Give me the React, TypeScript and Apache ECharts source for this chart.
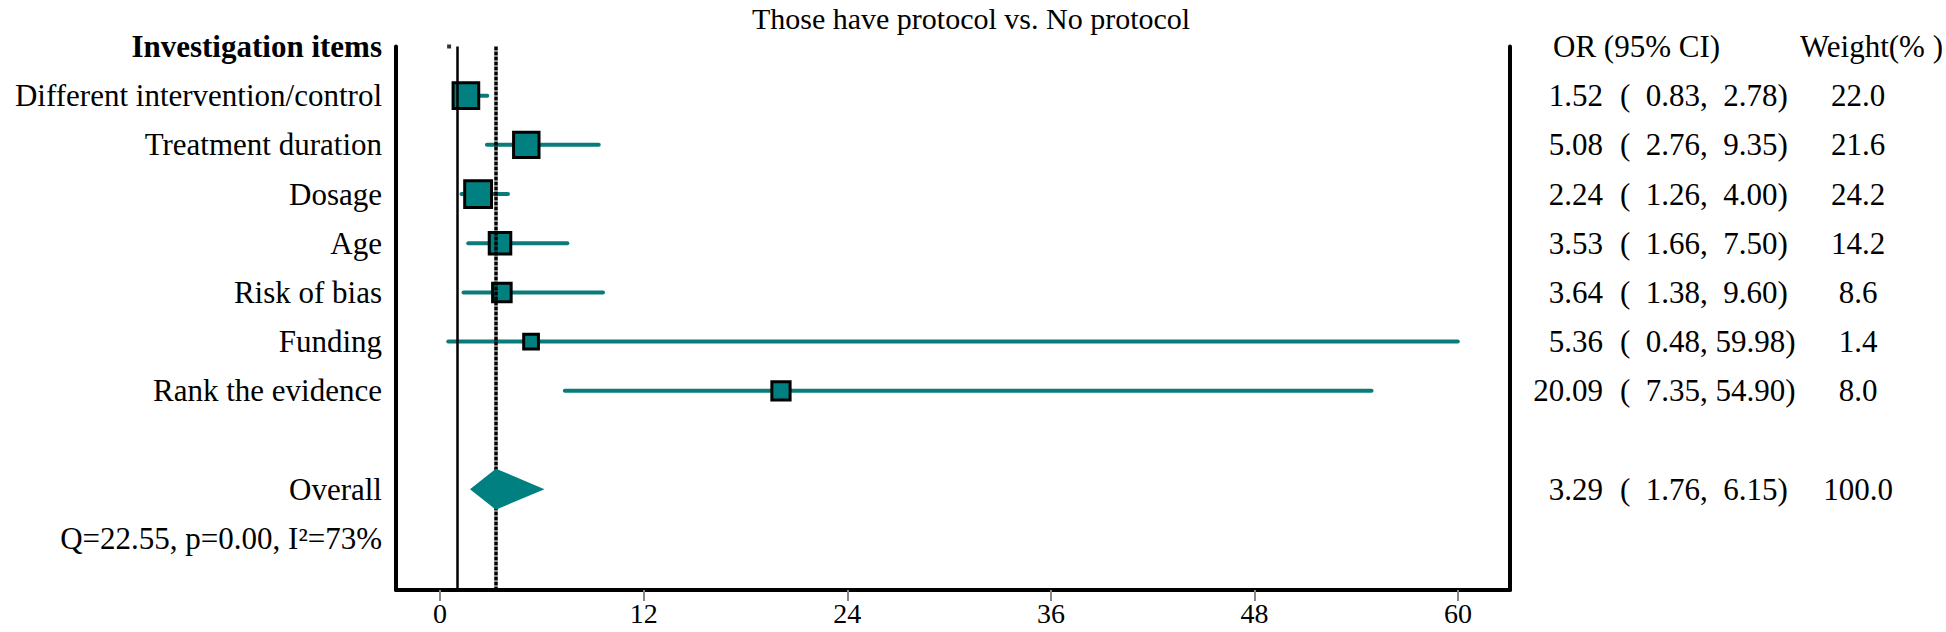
import React, { useEffect, useRef } from "react";
import * as echarts from "echarts";

const titleText = "Those have protocol vs. No protocol";
const headerLeft = "Investigation items";
const headerOR = "OR (95% CI)";
const headerWeight = "Weight(% )";
const categories = [
  "Different intervention/control",
  "Treatment duration",
  "Dosage",
  "Age",
  "Risk of bias",
  "Funding",
  "Rank the evidence",
];
const orValues = [1.52, 5.08, 2.24, 3.53, 3.64, 5.36, 20.09];
const ciLower = [0.83, 2.76, 1.26, 1.66, 1.38, 0.48, 7.35];
const ciUpper = [2.78, 9.35, 4.0, 7.5, 9.6, 59.98, 54.9];
const weights = [22.0, 21.6, 24.2, 14.2, 8.6, 1.4, 8.0];
const overallLabel = "Overall";
const overallOR = [3.29];
const overallLower = [1.76];
const overallUpper = [6.15];
const overallWeight = [100.0];
const heterogeneityText = "Q=22.55, p=0.00, I\u00b2=73%";
const xTickValues = [0, 12, 24, 36, 48, 60];
const nullLine = [1];
const topDot = [[0.53, 0]];

const FONT = "Liberation Serif";
const TEAL = "#008080";
const TEAL_LINE = "#0a7b7b";
const NB = "\u00a0";

const itemRows = categories.map((_, i) => i + 1);
const overallRow = categories.length + 2;
const statsRow = overallRow + 1;
const yMax = 11.05;

const pad5 = (v: number) => {
  const s = v.toFixed(2);
  return NB.repeat(Math.max(0, 5 - s.length)) + s;
};

const rowMap = (): Record<number, { label: string; or?: number; lo?: number; hi?: number; w?: number }> => {
  const m: Record<number, any> = {};
  categories.forEach((c, i) => {
    m[i + 1] = { label: c, or: orValues[i], lo: ciLower[i], hi: ciUpper[i], w: weights[i] };
  });
  m[overallRow] = { label: overallLabel, or: overallOR[0], lo: overallLower[0], hi: overallUpper[0], w: overallWeight[0] };
  m[statsRow] = { label: heterogeneityText };
  return m;
};

export default function App() {
  const ref = useRef<HTMLDivElement>(null);
  useEffect(() => {
    if (!ref.current) return;
    const chart = echarts.init(ref.current, undefined, { renderer: "svg" });
    const rows = rowMap();
    const dataRows = [...itemRows, overallRow];
    const baseY = {
      type: "value" as const,
      inverse: true,
      min: 0,
      max: yMax,
      splitLine: { show: false },
      axisTick: { show: false },
    };
    const txtL = { fontFamily: FONT, fontSize: 31, color: "#000" };
    const txtR = { fontFamily: FONT, fontSize: 31, color: "#000" };
    const option: any = {
      animation: false,
      backgroundColor: "#fff",
      textStyle: { fontFamily: FONT },
      title: {
        text: titleText,
        left: 971,
        top: 3,
        padding: 0,
        textAlign: "center",
        textStyle: { fontFamily: FONT, fontSize: 30, fontWeight: "normal", color: "#000" },
      },
      grid: { left: 396, right: 434, top: 46.5, bottom: 42, containLabel: false },
      xAxis: {
        type: "value",
        min: -2.6,
        max: 63.06,
        splitLine: { show: false },
        axisLine: { show: true, onZero: false, lineStyle: { color: "#000", width: 4 } },
        axisTick: { show: true, customValues: xTickValues, length: 11, lineStyle: { color: "#888", width: 2 } },
        axisLabel: { customValues: xTickValues, margin: 9, fontFamily: FONT, fontSize: 28, color: "#000" },
      },
      yAxis: [
        {
          ...baseY,
          position: "left",
          axisLine: { show: true, onZero: false, lineStyle: { color: "#000", width: 4 } },
          axisLabel: {
            customValues: [0, ...itemRows, overallRow, statsRow],
            margin: 14,
            ...txtL,
            formatter: (v: number) => (v === 0 ? "{b|" + headerLeft + "}" : rows[v] ? rows[v].label : ""),
            rich: { b: { fontFamily: FONT, fontSize: 31, fontWeight: "bold", color: "#000" } },
          },
        },
        {
          ...baseY,
          position: "right",
          axisLine: { show: true, onZero: false, lineStyle: { color: "#000", width: 4 } },
          axisLabel: {
            customValues: dataRows,
            margin: 93,
            align: "right",
            ...txtR,
            formatter: (v: number) => (rows[v] && rows[v].or !== undefined ? rows[v].or!.toFixed(2) : ""),
          },
        },
        {
          ...baseY,
          position: "right",
          axisLine: { show: false, onZero: false },
          axisLabel: {
            customValues: dataRows,
            margin: 110,
            align: "left",
            ...txtR,
            formatter: (v: number) =>
              rows[v] && rows[v].lo !== undefined
                ? "(" + NB + pad5(rows[v].lo!) + "," + NB + pad5(rows[v].hi!) + ")"
                : "",
          },
        },
        {
          ...baseY,
          position: "right",
          axisLine: { show: false, onZero: false },
          axisLabel: {
            customValues: dataRows,
            margin: 348,
            align: "center",
            ...txtR,
            formatter: (v: number) => (rows[v] && rows[v].w !== undefined ? rows[v].w!.toFixed(1) : ""),
          },
        },
        {
          ...baseY,
          position: "right",
          axisLine: { show: false, onZero: false },
          axisLabel: { customValues: [0], margin: 43, align: "left", ...txtR, formatter: () => headerOR },
        },
        {
          ...baseY,
          position: "right",
          axisLine: { show: false, onZero: false },
          axisLabel: { customValues: [0], margin: 290, align: "left", ...txtR, formatter: () => headerWeight },
        },
      ],
      series: [
        {
          type: "custom",
          name: "CI",
          z: 2,
          encode: { x: [0, 1], y: 2 },
          data: categories.map((_, i) => [ciLower[i], ciUpper[i], i + 1]),
          renderItem: (params: any, api: any) => {
            const a = api.coord([api.value(0), api.value(2)]);
            const b = api.coord([api.value(1), api.value(2)]);
            return {
              type: "line",
              shape: { x1: a[0], y1: a[1], x2: b[0], y2: b[1] },
              style: { stroke: TEAL_LINE, lineWidth: 4, lineCap: "round" },
            };
          },
        },
        {
          type: "scatter",
          name: "OR",
          z: 3,
          symbol: "rect",
          symbolSize: (val: number[]) => 14 + 0.53 * val[2],
          itemStyle: { color: TEAL, borderColor: "#000", borderWidth: 3, opacity: 1 },
          data: categories.map((_, i) => [orValues[i], i + 1, weights[i]]),
        },
        {
          type: "scatter",
          name: "dot",
          z: 4,
          symbol: "rect",
          symbolSize: 4,
          itemStyle: { color: "#000" },
          data: topDot,
          markLine: {
            silent: true,
            symbol: "none",
            label: { show: false },
            data: [
              { xAxis: nullLine[0], lineStyle: { color: "#000", width: 2.5, type: "solid" } },
              { xAxis: overallOR[0], lineStyle: { color: "#000", width: 3.5, type: [4, 1] } },
            ],
          },
        },
        {
          type: "custom",
          name: "Overall",
          z: 5,
          encode: { x: [0, 1, 2], y: 3 },
          data: [[overallLower[0], overallOR[0], overallUpper[0], overallRow]],
          renderItem: (params: any, api: any) => {
            const y = api.value(3);
            const l = api.coord([api.value(0), y]);
            const c = api.coord([api.value(1), y]);
            const r = api.coord([api.value(2), y]);
            const h = 20.5;
            return {
              type: "polygon",
              shape: { points: [[l[0], l[1]], [c[0], c[1] - h], [r[0], r[1]], [c[0], c[1] + h]] },
              style: { fill: TEAL },
            };
          },
        },
      ],
    };
    chart.setOption(option);
    return () => chart.dispose();
  }, []);
  return (
    <div
      ref={ref}
      style={{ position: "absolute", left: 0, top: 0, width: 1946, height: 632, background: "#fff" }}
    />
  );
}
